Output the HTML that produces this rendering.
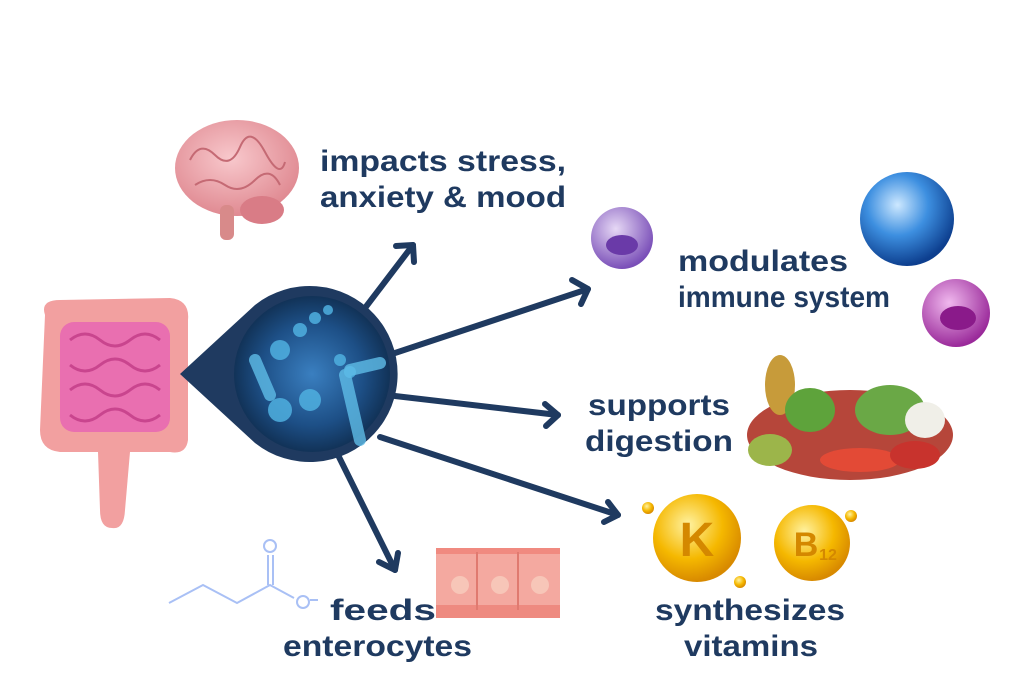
<!DOCTYPE html>
<html><head><meta charset="utf-8"><style>html,body{margin:0;padding:0;background:#fff}svg{display:block}</style></head>
<body>
<svg width="1024" height="683" viewBox="0 0 1024 683" xmlns="http://www.w3.org/2000/svg">
<defs>
<radialGradient id="bact" cx="50%" cy="50%" r="55%"><stop offset="0" stop-color="#3a7fc0"/><stop offset="0.6" stop-color="#1d4f86"/><stop offset="1" stop-color="#0e2a4a"/></radialGradient>
<radialGradient id="blue" cx="40%" cy="35%" r="65%"><stop offset="0" stop-color="#cde8ff"/><stop offset="0.5" stop-color="#3d8fe0"/><stop offset="1" stop-color="#0d3f8f"/></radialGradient>
<radialGradient id="purp" cx="40%" cy="35%" r="65%"><stop offset="0" stop-color="#e6d8f5"/><stop offset="1" stop-color="#7a4fb8"/></radialGradient>
<radialGradient id="mag" cx="40%" cy="35%" r="65%"><stop offset="0" stop-color="#f0b8ee"/><stop offset="1" stop-color="#9a2a9a"/></radialGradient>
<radialGradient id="gold" cx="40%" cy="35%" r="65%"><stop offset="0" stop-color="#fff2a0"/><stop offset="0.6" stop-color="#f5b800"/><stop offset="1" stop-color="#d88a00"/></radialGradient>
<radialGradient id="brain" cx="45%" cy="40%" r="60%"><stop offset="0" stop-color="#f8c8cc"/><stop offset="1" stop-color="#e08a92"/></radialGradient>
</defs>

<!-- intestine -->
<g>
<path d="M45 315 Q40 300 60 300 L170 298 Q190 300 188 320 L188 440 Q186 455 170 452 L130 452 L125 510 Q124 530 112 528 Q100 528 100 510 L98 452 L60 452 Q40 450 40 430 Z" fill="#f2a0a0"/>
<rect x="60" y="322" width="110" height="110" rx="14" fill="#e96fb0"/>
<path d="M70 340 q15 -12 30 0 t30 0 t30 0 M70 365 q15 12 30 0 t30 0 t30 0 M70 390 q15 -12 30 0 t30 0 t30 0 M70 415 q15 12 30 0 t30 0 t30 0" stroke="#c9458e" stroke-width="3" fill="none"/>
</g>

<!-- brain -->
<g>
<ellipse cx="237" cy="168" rx="62" ry="48" fill="url(#brain)"/>
<path d="M190 160 q10 -20 25 -5 t25 -8 t25 5 t20 10 M195 185 q15 -10 30 0 t30 -5 t25 5" stroke="#c56a74" stroke-width="2" fill="none"/>
<ellipse cx="262" cy="210" rx="22" ry="14" fill="#d97c86"/>
<rect x="220" y="205" width="14" height="35" rx="6" fill="#d88a8a"/>
</g>

<!-- arrows -->
<g stroke="#1f3a60" stroke-width="6" fill="none" stroke-linecap="round" stroke-linejoin="round">
<line x1="365" y1="308" x2="413" y2="245"/>
<polyline points="396,246 413,245 414,262"/>
<line x1="395" y1="353" x2="588" y2="289"/>
<polyline points="572,280 588,289 581,304"/>
<line x1="395" y1="396" x2="558" y2="415"/>
<polyline points="545,404 558,415 546,426"/>
<line x1="380" y1="437" x2="618" y2="515"/>
<polyline points="608,502 618,515 604,522"/>
<line x1="338" y1="455" x2="395" y2="570"/>
<polyline points="379,562 395,570 398,553"/>
</g>

<!-- teardrop + bacteria circle -->
<path d="M180 374 L255 305 A88 88 0 1 1 255 443 Z" fill="#1f3a60"/>
<circle cx="312" cy="374" r="78" fill="url(#bact)"/>
<g fill="#4fb0e0" opacity="0.85">
<circle cx="280" cy="350" r="10"/><circle cx="300" cy="330" r="7"/><circle cx="315" cy="318" r="6"/><circle cx="328" cy="310" r="5"/>
<circle cx="340" cy="360" r="6"/><circle cx="350" cy="372" r="6"/>
<circle cx="280" cy="410" r="12"/><circle cx="310" cy="400" r="11"/>
</g>
<g stroke="#5fbde8" stroke-width="12" stroke-linecap="round" opacity="0.8">
<line x1="345" y1="375" x2="360" y2="440"/><line x1="350" y1="370" x2="380" y2="363"/><line x1="255" y1="360" x2="270" y2="395"/>
</g>

<!-- immune cells -->
<circle cx="622" cy="238" r="31" fill="url(#purp)"/>
<ellipse cx="622" cy="245" rx="16" ry="10" fill="#6a3aa8"/>
<circle cx="907" cy="219" r="47" fill="url(#blue)"/>
<circle cx="956" cy="313" r="34" fill="url(#mag)"/>
<ellipse cx="958" cy="318" rx="18" ry="12" fill="#8a1a8a"/>

<!-- vegetables -->
<g>
<ellipse cx="850" cy="435" rx="103" ry="45" fill="#b6463a"/>
<ellipse cx="780" cy="385" rx="15" ry="30" fill="#c79b3a"/>
<ellipse cx="810" cy="410" rx="25" ry="22" fill="#5ea33b"/>
<ellipse cx="890" cy="410" rx="35" ry="25" fill="#6aa846"/>
<ellipse cx="925" cy="420" rx="20" ry="18" fill="#f0efe8"/>
<ellipse cx="770" cy="450" rx="22" ry="16" fill="#9cb54a"/>
<ellipse cx="860" cy="460" rx="40" ry="12" fill="#e34a36"/>
<ellipse cx="915" cy="455" rx="25" ry="14" fill="#c8332d"/>
</g>

<!-- vitamins -->
<circle cx="697" cy="538" r="44" fill="url(#gold)"/>
<text x="697" y="556" text-anchor="middle" font-family="Liberation Sans, sans-serif" font-weight="bold" font-size="48" fill="#d48800">K</text>
<circle cx="812" cy="543" r="38" fill="url(#gold)"/>
<text x="806" y="556" text-anchor="middle" font-family="Liberation Sans, sans-serif" font-weight="bold" font-size="34" fill="#d48800">B</text>
<text x="828" y="560" text-anchor="middle" font-family="Liberation Sans, sans-serif" font-weight="bold" font-size="16" fill="#d48800">12</text>
<circle cx="648" cy="508" r="6" fill="url(#gold)"/><circle cx="740" cy="582" r="6" fill="url(#gold)"/><circle cx="851" cy="516" r="6" fill="url(#gold)"/>

<!-- enterocytes -->
<g>
<rect x="436" y="552" width="124" height="66" fill="#f4a9a0"/>
<rect x="436" y="548" width="124" height="6" fill="#f08a80"/>
<rect x="436" y="605" width="124" height="13" fill="#ee8a80"/>
<line x1="477" y1="552" x2="477" y2="610" stroke="#e07a70" stroke-width="2"/>
<line x1="518" y1="552" x2="518" y2="610" stroke="#e07a70" stroke-width="2"/>
<circle cx="460" cy="585" r="9" fill="#f7c6b8"/><circle cx="500" cy="585" r="9" fill="#f7c6b8"/><circle cx="540" cy="585" r="9" fill="#f7c6b8"/>
</g>

<!-- butyrate -->
<g stroke="#a9c0f5" stroke-width="2" fill="none">
<polyline points="169,603 203,585 237,603 270,585 294,598"/>
<line x1="268" y1="585" x2="268" y2="555"/><line x1="273" y1="585" x2="273" y2="555"/>
<circle cx="270" cy="546" r="6"/><circle cx="303" cy="602" r="6"/>
<line x1="310" y1="600" x2="318" y2="600"/>
</g>

<!-- labels -->
<g font-family="Liberation Sans, sans-serif" font-weight="bold" font-size="30" fill="#1f3a60">
<text x="320" y="171" textLength="246" lengthAdjust="spacingAndGlyphs">impacts stress,</text>
<text x="320" y="207" textLength="246" lengthAdjust="spacingAndGlyphs">anxiety &amp; mood</text>
<text x="678" y="271" textLength="170" lengthAdjust="spacingAndGlyphs">modulates</text>
<text x="678" y="307" textLength="212" lengthAdjust="spacingAndGlyphs">immune system</text>
<text x="588" y="415" textLength="142" lengthAdjust="spacingAndGlyphs">supports</text>
<text x="585" y="451" textLength="148" lengthAdjust="spacingAndGlyphs">digestion</text>
<text x="330" y="620" textLength="106" lengthAdjust="spacingAndGlyphs">feeds</text>
<text x="283" y="656" textLength="189" lengthAdjust="spacingAndGlyphs">enterocytes</text>
<text x="655" y="620" textLength="190" lengthAdjust="spacingAndGlyphs">synthesizes</text>
<text x="684" y="656" textLength="134" lengthAdjust="spacingAndGlyphs">vitamins</text>
</g>
</svg>
</body></html>
